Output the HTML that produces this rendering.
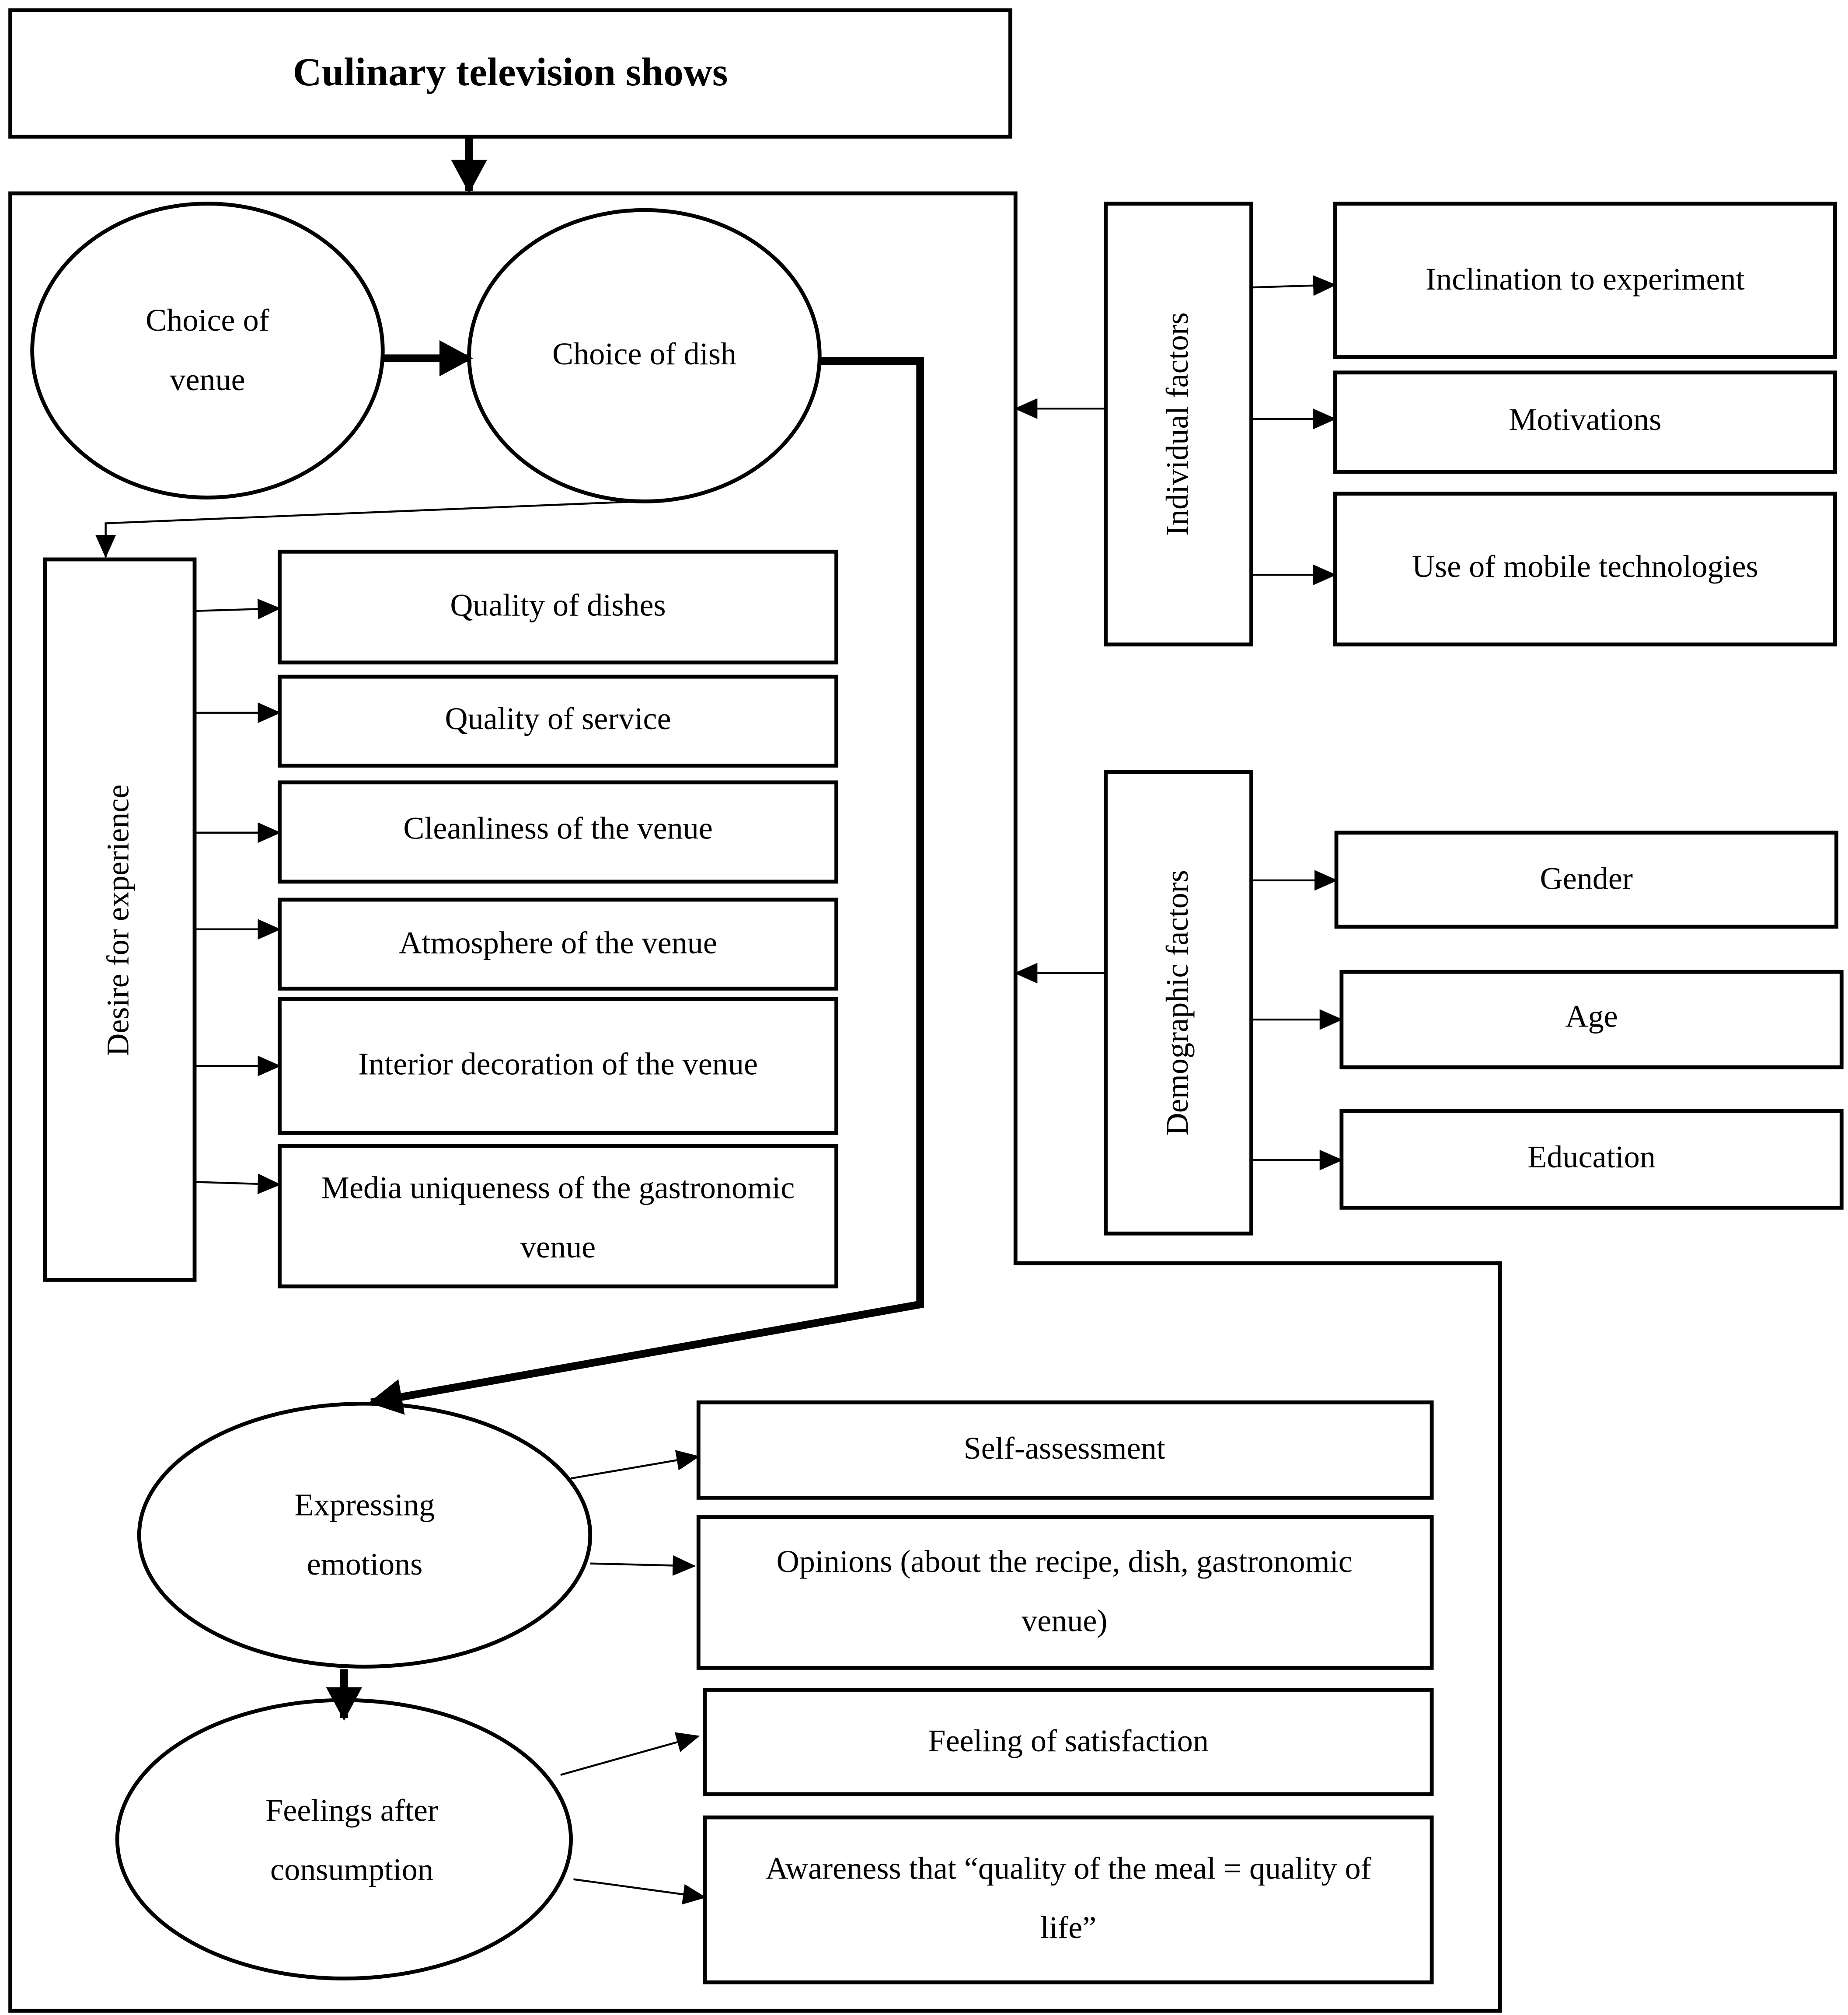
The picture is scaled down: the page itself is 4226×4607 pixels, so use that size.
<!DOCTYPE html>
<html><head><meta charset="utf-8"><style>
html,body{margin:0;padding:0;background:#fff;}
svg{display:block;}
text{font-family:"Liberation Serif",serif;font-size:24.5px;fill:#000;text-anchor:middle;dominant-baseline:middle;}
</style></head><body>
<svg width="4226" height="4607" viewBox="0 0 1434 1563.3" preserveAspectRatio="none" xmlns="http://www.w3.org/2000/svg">
<defs>
<marker id="a" markerWidth="18" markerHeight="16" refX="17" refY="8" orient="auto" markerUnits="userSpaceOnUse" viewBox="0 0 18 16"><path d="M0,0 L18,8 L0,16 z"/></marker>
<marker id="ab" markerWidth="26" markerHeight="28" refX="24" refY="14" orient="auto" markerUnits="userSpaceOnUse" viewBox="0 0 26 28"><path d="M0,0 L26,14 L0,28 z"/></marker>
</defs>
<g fill="none" stroke="#000" stroke-width="3">
<rect x="8" y="8" width="776" height="98"/>
<polygon points="8,150 788,150 788,980 1164,980 1164,1560 8,1560"/>
<ellipse cx="161" cy="272" rx="136" ry="114"/>
<ellipse cx="500" cy="276" rx="136" ry="113"/>
<rect x="35" y="434" width="116" height="559"/>
<rect x="217" y="428" width="432" height="86"/>
<rect x="217" y="525" width="432" height="69"/>
<rect x="217" y="607" width="432" height="77"/>
<rect x="217" y="698" width="432" height="69"/>
<rect x="217" y="775" width="432" height="104"/>
<rect x="217" y="889" width="432" height="109"/>
<rect x="858" y="158" width="113" height="342"/>
<rect x="1036" y="158" width="388" height="119"/>
<rect x="1036" y="289" width="388" height="77"/>
<rect x="1036" y="383" width="388" height="117"/>
<rect x="858" y="599" width="113" height="358"/>
<rect x="1037" y="646" width="388" height="73"/>
<rect x="1041" y="754" width="388" height="74"/>
<rect x="1041" y="862" width="388" height="75"/>
<ellipse cx="283" cy="1191" rx="175" ry="102"/>
<ellipse cx="267" cy="1427" rx="176" ry="108"/>
<rect x="542" y="1088" width="569" height="74"/>
<rect x="542" y="1177" width="569" height="117"/>
<rect x="547" y="1311" width="564" height="81"/>
<rect x="547" y="1410" width="564" height="128"/>
</g>
<g fill="none" stroke="#000" stroke-width="1.5">
<polyline points="496,389 82,406 82,432" marker-end="url(#a)"/>
<line x1="151" y1="474" x2="217" y2="472" marker-end="url(#a)"/>
<line x1="151" y1="553" x2="217" y2="553" marker-end="url(#a)"/>
<line x1="151" y1="646" x2="217" y2="646" marker-end="url(#a)"/>
<line x1="151" y1="721" x2="217" y2="721" marker-end="url(#a)"/>
<line x1="151" y1="827" x2="217" y2="827" marker-end="url(#a)"/>
<line x1="151" y1="917" x2="217" y2="919" marker-end="url(#a)"/>
<line x1="971" y1="223" x2="1036" y2="221" marker-end="url(#a)"/>
<line x1="971" y1="325" x2="1036" y2="325" marker-end="url(#a)"/>
<line x1="971" y1="446" x2="1036" y2="446" marker-end="url(#a)"/>
<line x1="858" y1="317" x2="788" y2="317" marker-end="url(#a)"/>
<line x1="971" y1="683" x2="1037" y2="683" marker-end="url(#a)"/>
<line x1="971" y1="791" x2="1041" y2="791" marker-end="url(#a)"/>
<line x1="971" y1="900" x2="1041" y2="900" marker-end="url(#a)"/>
<line x1="858" y1="755" x2="788" y2="755" marker-end="url(#a)"/>
<line x1="443" y1="1147" x2="542" y2="1130" marker-end="url(#a)"/>
<line x1="458" y1="1213" x2="539" y2="1215" marker-end="url(#a)"/>
<line x1="435" y1="1377" x2="542" y2="1347" marker-end="url(#a)"/>
<line x1="445" y1="1458" x2="547" y2="1472" marker-end="url(#a)"/>
</g>
<g fill="none" stroke="#000" stroke-width="6">
<line x1="364" y1="106" x2="364" y2="148" marker-end="url(#ab)"/>
<line x1="298" y1="278" x2="365" y2="278" marker-end="url(#ab)"/>
<polyline points="636,280 714,280 714,1012 288,1088" marker-end="url(#ab)"/>
<line x1="267" y1="1295" x2="267" y2="1333" marker-end="url(#ab)"/>
</g>
<g stroke="none" fill="#000">
</g>
<text x="396" y="59" style="font-weight:bold;font-size:31px">Culinary television shows</text>
<text x="161" y="251">Choice of</text>
<text x="161" y="297">venue</text>
<text x="500" y="277">Choice of dish</text>
<text transform="translate(94,714) rotate(-90)">Desire for experience</text>
<text x="433" y="472">Quality of dishes</text>
<text x="433" y="560">Quality of service</text>
<text x="433" y="645">Cleanliness of the venue</text>
<text x="433" y="734">Atmosphere of the venue</text>
<text x="433" y="828">Interior decoration of the venue</text>
<text x="433" y="924">Media uniqueness of the gastronomic</text>
<text x="433" y="970">venue</text>
<text transform="translate(916,329) rotate(-90)">Individual factors</text>
<text x="1230" y="219">Inclination to experiment</text>
<text x="1230" y="328">Motivations</text>
<text x="1230" y="442">Use of mobile technologies</text>
<text transform="translate(916,778) rotate(-90)">Demographic factors</text>
<text x="1231" y="684">Gender</text>
<text x="1235" y="791">Age</text>
<text x="1235" y="900">Education</text>
<text x="283" y="1170">Expressing</text>
<text x="283" y="1216">emotions</text>
<text x="273" y="1407">Feelings after</text>
<text x="273" y="1453">consumption</text>
<text x="826" y="1126">Self-assessment</text>
<text x="826" y="1214">Opinions (about the recipe, dish, gastronomic</text>
<text x="826" y="1260">venue)</text>
<text x="829" y="1353">Feeling of satisfaction</text>
<text x="829" y="1452">Awareness that “quality of the meal = quality of</text>
<text x="829" y="1498">life”</text>
</svg>
</body></html>
